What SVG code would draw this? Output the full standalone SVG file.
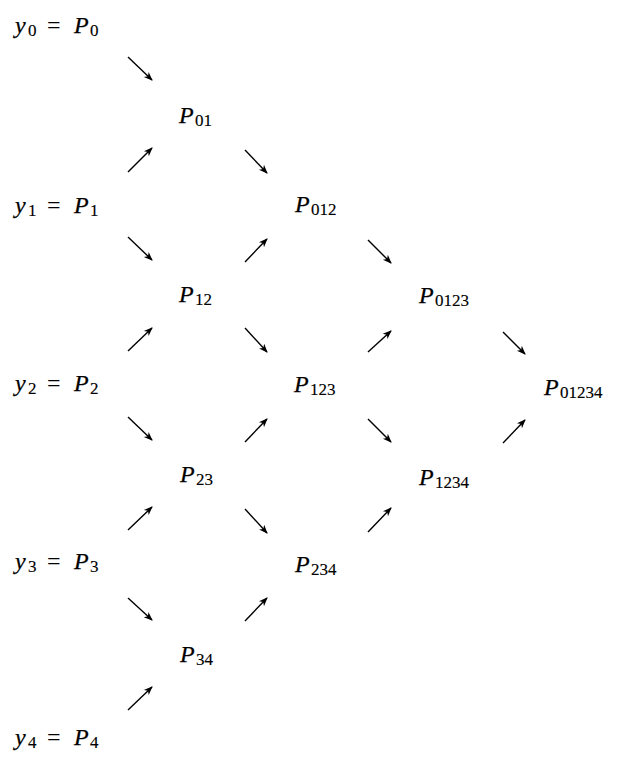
<svg xmlns="http://www.w3.org/2000/svg" width="618" height="758" viewBox="0 0 618 758">
<style>
  text { font-family: "Liberation Serif", "Times New Roman", serif; fill: #000; }
  .m { font-size: 24px; font-style: italic; stroke: #000; stroke-width: 0.25; }
  .s { font-size: 17px; font-style: normal; stroke: #000; stroke-width: 0.15; }
  .eq { font-size: 24px; font-style: normal; }
  .c line { stroke: #000; stroke-width: 1.4; marker-end: url(#ah); }
</style>
<defs>
  <marker id="ah" markerUnits="userSpaceOnUse" markerWidth="9" markerHeight="9" viewBox="0 0 9 9" refX="8" refY="4.5" orient="auto">
    <path d="M0,1 L9,4.5 L0,8 L2.5,4.5 z" fill="#000"/>
  </marker>
</defs>
<rect width="618" height="758" fill="#fff"/>

<g id="y0"><text class="m" x="15" y="33">y</text><text class="s" x="28" y="36">0</text><text class="eq" x="47" y="33">=</text><text class="m" x="74" y="33">P</text><text class="s" x="90" y="36">0</text></g>
<g id="y1"><text class="m" x="15" y="213">y</text><text class="s" x="28" y="216">1</text><text class="eq" x="47" y="213">=</text><text class="m" x="74" y="213">P</text><text class="s" x="90" y="216">1</text></g>
<g id="y2"><text class="m" x="15" y="391">y</text><text class="s" x="28" y="394">2</text><text class="eq" x="47" y="391">=</text><text class="m" x="74" y="391">P</text><text class="s" x="90" y="394">2</text></g>
<g id="y3"><text class="m" x="15" y="569">y</text><text class="s" x="28" y="572">3</text><text class="eq" x="47" y="569">=</text><text class="m" x="74" y="569">P</text><text class="s" x="90" y="572">3</text></g>
<g id="y4"><text class="m" x="15" y="745">y</text><text class="s" x="28" y="748">4</text><text class="eq" x="47" y="745">=</text><text class="m" x="74" y="745">P</text><text class="s" x="90" y="748">4</text></g>

<g id="P01"><text class="m" x="179" y="123">P</text><text class="s" x="195" y="126">01</text></g>
<g id="P12"><text class="m" x="179" y="302">P</text><text class="s" x="195" y="305">12</text></g>
<g id="P23"><text class="m" x="180" y="482">P</text><text class="s" x="196" y="485">23</text></g>
<g id="P34"><text class="m" x="180" y="662">P</text><text class="s" x="196" y="665">34</text></g>
<g id="P012"><text class="m" x="295" y="212">P</text><text class="s" x="311" y="215">012</text></g>
<g id="P123"><text class="m" x="294" y="392">P</text><text class="s" x="310" y="395">123</text></g>
<g id="P234"><text class="m" x="295" y="572">P</text><text class="s" x="311" y="575">234</text></g>
<g id="P0123"><text class="m" x="419" y="303">P</text><text class="s" x="435" y="306">0123</text></g>
<g id="P1234"><text class="m" x="419" y="485">P</text><text class="s" x="435" y="488">1234</text></g>
<g id="P01234"><text class="m" x="544" y="395">P</text><text class="s" x="560" y="398">01234</text></g>

<g id="connectors" class="c">
  <line x1="128" y1="57" x2="152" y2="80"/>
  <line x1="128" y1="172" x2="152" y2="148"/>
  <line x1="128" y1="237" x2="152" y2="260"/>
  <line x1="128" y1="351" x2="152" y2="328"/>
  <line x1="128" y1="417" x2="152" y2="440"/>
  <line x1="128" y1="530" x2="152" y2="507"/>
  <line x1="128" y1="598" x2="152" y2="620"/>
  <line x1="128" y1="710" x2="152" y2="687"/>

  <line x1="245" y1="150" x2="267" y2="173"/>
  <line x1="245" y1="262" x2="267" y2="239"/>
  <line x1="245" y1="328" x2="267" y2="352"/>
  <line x1="245" y1="442" x2="267" y2="419"/>
  <line x1="245" y1="509" x2="267" y2="533"/>
  <line x1="245" y1="621" x2="267" y2="598"/>

  <line x1="368" y1="240" x2="391" y2="263"/>
  <line x1="368" y1="352" x2="391" y2="331"/>
  <line x1="368" y1="419" x2="391" y2="442"/>
  <line x1="368" y1="532" x2="391" y2="508"/>

  <line x1="503" y1="332" x2="525" y2="354"/>
  <line x1="503" y1="443" x2="525" y2="420"/>
</g>
</svg>
